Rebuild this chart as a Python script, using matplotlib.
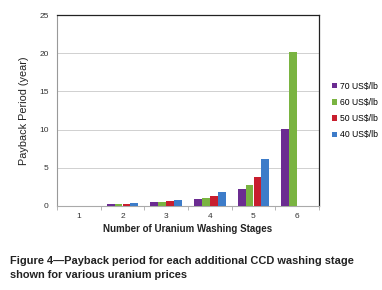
import numpy as np
import matplotlib.pyplot as plt

plt.rcParams['font.family'] = ['Liberation Sans', 'DejaVu Sans']

stages = [1, 2, 3, 4, 5, 6]
series_names = ['70 US$/lb', '60 US$/lb', '50 US$/lb', '40 US$/lb']
p70 = [0, 0.2, 0.5, 0.9, 2.2, 10.1]
p60 = [0, 0.25, 0.55, 1.1, 2.8, 20.2]
p50 = [0, 0.3, 0.65, 1.35, 3.8, 0]
p40 = [0, 0.45, 0.8, 1.8, 6.2, 0]
colors = ['#6b2c91', '#7ab441', '#c81e2e', '#3d7cc9']

fig = plt.figure(figsize=(3.82, 2.90), dpi=100)
ax = fig.add_axes([57/382, 1-206/290, 262/382, 191/290])

x = np.arange(len(stages))
w = 0.18
for i, (vals, name) in enumerate(zip([p70, p60, p50, p40], series_names)):
    ax.bar(x + (i - 1.5) * w, vals, w, color=colors[i], label=name, zorder=3)

ax.set_xlim(-0.5, len(stages) - 0.5)
ax.set_ylim(0, 25)
ax.set_yticks([0, 5, 10, 15, 20, 25])
ax.set_xticks(x)
ax.set_xticklabels(stages)
ax.set_xticks(np.arange(-0.5, len(stages), 1), minor=True)
ax.tick_params(axis='x', which='major', length=0, labelsize=6, pad=5, colors='#333333')
ax.tick_params(axis='x', which='minor', length=3, color='#aaaaaa')
ax.tick_params(axis='y', length=0, labelsize=6, pad=6, colors='#333333')
ax.grid(axis='y', color='#d0d0d0', lw=0.7, zorder=0)

for s in ['top', 'right']:
    ax.spines[s].set_color('#222222')
    ax.spines[s].set_linewidth(0.9)
ax.spines['left'].set_color('#999999')
ax.spines['bottom'].set_color('#aaaaaa')

ax.set_ylabel('Payback Period (year)', fontsize=7.8, color='#222222', labelpad=7)
ax.set_xlabel('Number of Uranium Washing Stages', fontsize=7, fontweight='bold',
              color='#222222', labelpad=3)

ax.legend(loc='center left', bbox_to_anchor=(1.02, 0.5), frameon=False, fontsize=6.2,
          handlelength=0.6, handleheight=0.6, handletextpad=0.3, labelspacing=0.85)

fig.text(10/382, 1-268/290, 'Figure 4\u2014Payback period for each additional CCD washing stage\nshown for various uranium prices',
         fontsize=7.9, fontweight='bold', color='#222222', va='center', linespacing=1.6)

fig.savefig('out.png', dpi=100)
